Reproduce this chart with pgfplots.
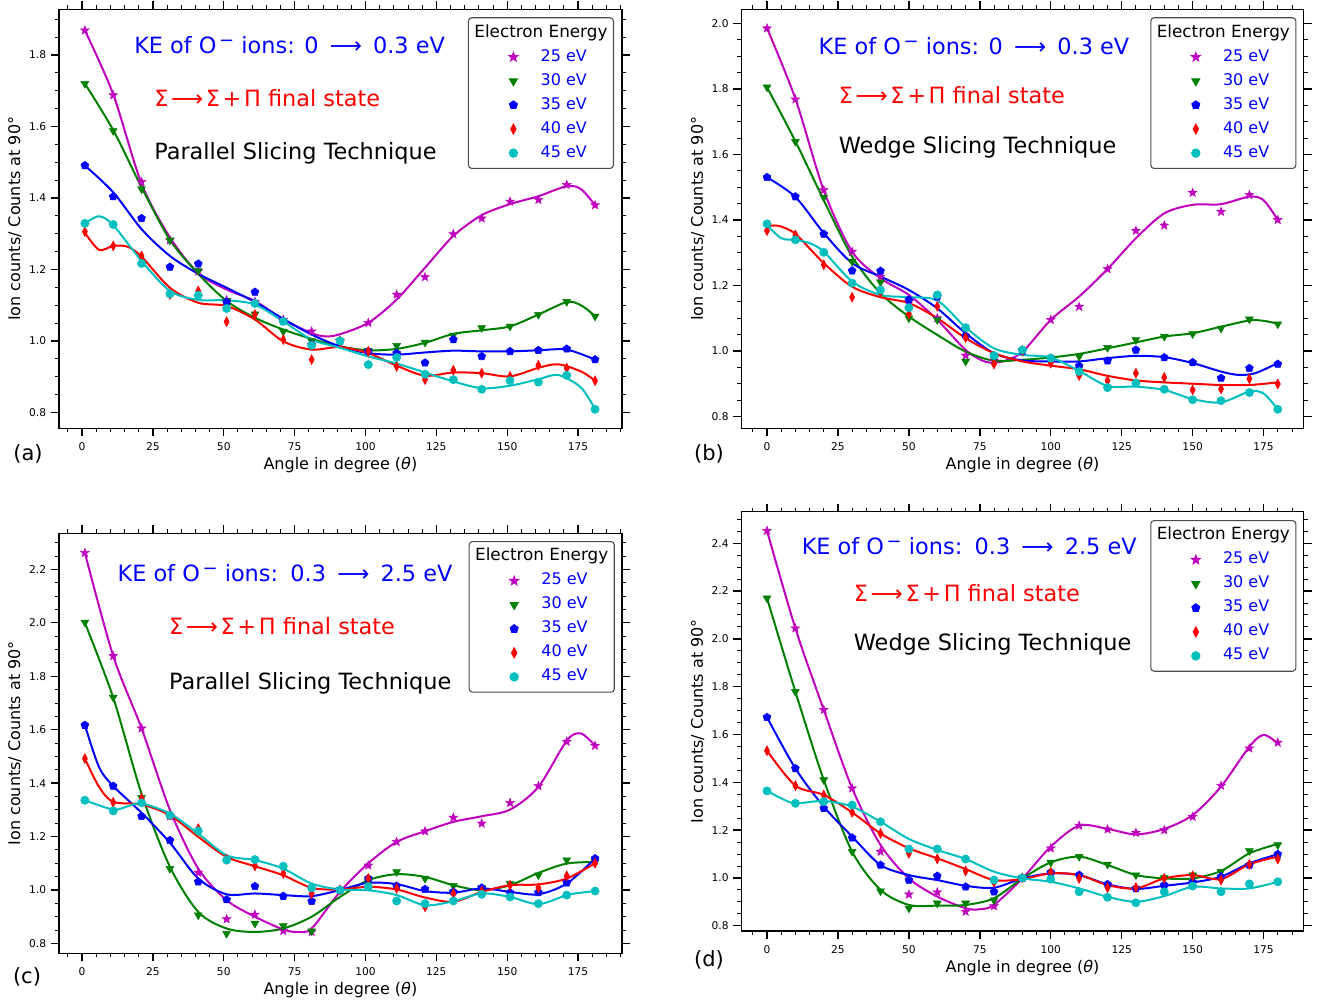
\documentclass[border=0pt]{standalone}
\usepackage{fontspec}
\setmainfont{DejaVu Sans}
\usepackage{pgfplots}
\usepackage{pgfplotstable}
\pgfplotsset{compat=1.18}
\usetikzlibrary{plotmarks}
\definecolor{mpm}{rgb}{0.75,0,0.75}
\definecolor{mpg}{rgb}{0,0.5,0}
\definecolor{mpc}{rgb}{0,0.75,0.75}
\definecolor{legedge}{rgb}{0.3,0.3,0.3}

\pgfdeclareplotmark{fstar}{%
 \pgfpathmoveto{\pgfpointpolar{90}{\pgfplotmarksize}}%
 \pgfpathlineto{\pgfpointpolar{126}{0.42\pgfplotmarksize}}%
 \pgfpathlineto{\pgfpointpolar{162}{\pgfplotmarksize}}%
 \pgfpathlineto{\pgfpointpolar{198}{0.42\pgfplotmarksize}}%
 \pgfpathlineto{\pgfpointpolar{234}{\pgfplotmarksize}}%
 \pgfpathlineto{\pgfpointpolar{270}{0.42\pgfplotmarksize}}%
 \pgfpathlineto{\pgfpointpolar{306}{\pgfplotmarksize}}%
 \pgfpathlineto{\pgfpointpolar{342}{0.42\pgfplotmarksize}}%
 \pgfpathlineto{\pgfpointpolar{18}{\pgfplotmarksize}}%
 \pgfpathlineto{\pgfpointpolar{54}{0.42\pgfplotmarksize}}%
 \pgfpathclose
 \pgfusepathqfillstroke
}

\pgfplotstableread{
x e25 e30 e35 e40 e45
1   1.869 1.720 1.491 1.306 1.329
11  1.688 1.588 1.404 1.266 1.326
21  1.445 1.425 1.343 1.238 1.217
31  1.282 1.282 1.207 1.130 1.132
41  1.195 1.196 1.216 1.140 1.128
51  1.115 1.112 1.109 1.054 1.091
61  1.110 1.075 1.137 1.074 1.105
71  1.060 1.027 1.055 1.004 1.055
81  1.027 1.000 0.990 0.948 0.988
91  1.000 1.000 1.000 1.000 1.000
101 1.051 0.973 0.971 0.971 0.934
111 1.130 0.987 0.966 0.929 0.954
121 1.179 0.996 0.939 0.892 0.907
131 1.299 1.016 1.004 0.918 0.892
141 1.343 1.037 0.957 0.910 0.865
151 1.390 1.041 0.971 0.901 0.889
161 1.395 1.074 0.974 0.932 0.885
171 1.437 1.110 0.978 0.924 0.904
181 1.380 1.069 0.948 0.889 0.809
}\dataA

\pgfplotstableread{
x e25 e30 e35 e40 e45
0   1.985 1.805 1.530 1.367 1.388
10  1.768 1.639 1.471 1.354 1.339
20  1.491 1.469 1.357 1.263 1.301
30  1.303 1.273 1.245 1.164 1.207
40  1.227 1.210 1.244 1.180 1.186
50  1.150 1.100 1.156 1.113 1.132
60  1.100 1.095 1.165 1.136 1.171
70  0.986 0.968 1.046 1.041 1.071
80  0.970 0.975 0.986 0.960 0.986
90  1.003 1.000 1.000 1.000 1.003
100 1.095 0.978 0.978 0.963 0.978
110 1.135 0.983 0.954 0.925 0.937
120 1.250 1.010 0.970 0.909 0.888
130 1.367 1.034 1.003 0.932 0.902
140 1.383 1.044 0.980 0.919 0.883
150 1.483 1.052 0.965 0.881 0.851
160 1.425 1.069 0.917 0.884 0.848
170 1.476 1.097 0.947 0.915 0.873
180 1.400 1.082 0.960 0.899 0.822
}\dataB

\pgfplotstableread{
x e25 e30 e35 e40 e45
1   2.262 2.002 1.617 1.492 1.336
11  1.876 1.721 1.389 1.328 1.296
21  1.605 1.346 1.276 1.343 1.326
31  1.276 1.080 1.186 1.280 1.280
41  1.065 0.906 1.031 1.230 1.221
51  0.891 0.837 0.964 1.115 1.112
61  0.908 0.875 1.014 1.090 1.114
71  0.847 0.866 0.977 1.062 1.089
81  0.843 0.846 0.958 0.987 1.008
91  1.000 1.000 1.000 1.000 1.000
101 1.092 1.030 1.043 1.043 1.012
111 1.180 1.068 1.015 1.006 0.959
121 1.220 1.043 1.003 0.937 0.949
131 1.271 1.016 0.993 0.987 0.959
141 1.249 1.008 1.008 0.995 0.984
151 1.326 1.024 0.990 1.018 0.974
161 1.389 1.056 0.991 1.008 0.949
171 1.555 1.112 1.027 1.053 0.981
181 1.540 1.105 1.118 1.100 0.996
}\dataC

\pgfplotstableread{
x e25 e30 e35 e40 e45
0   2.452 2.170 1.672 1.532 1.364
10  2.044 1.779 1.458 1.386 1.312
20  1.703 1.410 1.291 1.347 1.319
30  1.375 1.110 1.168 1.274 1.305
40  1.110 0.945 1.054 1.186 1.235
50  0.931 0.873 0.991 1.103 1.121
60  0.940 0.894 1.008 1.080 1.121
70  0.859 0.894 0.963 1.029 1.079
80  0.882 0.907 0.942 0.982 0.991
90  1.000 1.000 1.000 1.000 1.000
100 1.124 1.065 1.023 1.023 0.995
110 1.219 1.089 1.012 0.998 0.942
120 1.203 1.057 0.973 0.959 0.919
130 1.189 1.012 0.956 0.960 0.896
140 1.200 1.000 0.970 0.998 0.942
150 1.256 1.012 0.982 1.009 0.966
160 1.386 1.026 1.005 0.991 0.942
170 1.542 1.113 1.054 1.057 0.975
180 1.566 1.138 1.099 1.079 0.984
}\dataD

\tikzset{
  ann/.style={anchor=base west, inner sep=0pt, font=\fontsize{16.8}{20}\selectfont},
  plab/.style={anchor=center, inner sep=0pt, font=\fontsize{15.75}{19}\selectfont},
}
\pgfplotsset{
  legimg/.style={legend image code/.code={\path[draw=none] (0pt,0pt) -- (37.5pt,0pt);\draw[sharp corners,##1] plot coordinates {(29.25pt,0pt)};}},
  s25/.style={only marks, mark=fstar, mark size=3.4pt, color=mpm, legimg},
  s30/.style={only marks, mark=triangle*, mark size=3.4pt, mark options={rotate=180}, color=mpg, legimg},
  s35/.style={only marks, mark=pentagon*, mark size=3.1pt, color=blue, legimg},
  s40/.style={only marks, mark=diamond*, mark size=3.7pt, mark options={xscale=0.7}, color=red, legimg},
  s45/.style={only marks, mark=*, mark size=3.1pt, color=mpc, legimg},
  ln/.style={no markers, smooth, line width=1.5pt, forget plot},
  panel/.style={
    scale only axis, anchor=south west, clip=false,
    axis line style={line width=1.1pt},
    tick align=outside, tick pos=both,
    major tick length=6pt, minor tick length=3pt,
    major tick style={line width=1pt, black},
    minor tick style={line width=0.7pt, black},
    xtick={0,25,...,175}, minor xtick={-5,0,...,190},
    ytick={0.8,1.0,...,2.4}, minor ytick={0.75,0.8,...,2.55},
    yticklabel style={/pgf/number format/.cd, fixed, fixed zerofill, precision=1},
    xticklabel style={yshift=-1.5pt},
    tick label style={font=\fontsize{8}{9.6}\selectfont},
    /pgf/number format/assume math mode=true,
    label style={font=\fontsize{12}{14.4}\selectfont},
    xlabel={Angle in degree (\textit{θ})},
    ylabel={Ion counts/ Counts at 90°},
    xlabel style={at={(axis description cs:0.5,-0.0876)}, anchor=center},
    ylabel style={at={(axis description cs:-0.0778,0.5)}, anchor=center},
    legend cell align=left,
    legend style={draw=legedge, line width=0.8pt, rounded corners=2.5pt, fill=white,
      inner xsep=4.5pt, inner ysep=5.5pt, row sep=6pt, column sep=12.15pt,
      font=\fontsize{12}{14.4}\selectfont, text=blue,
      nodes={inner sep=0pt, text height=9pt, text depth=3pt}, anchor=north east},
  },
}
\newcommand{\legtitle}{\addlegendimage{empty legend}\addlegendentry{\hspace*{-49.65pt}\textcolor{black}{\fontsize{12.6}{14}\selectfont Electron Energy}}}
\newcommand{\supminus}{\kern2pt\raisebox{5.2pt}{\fontsize{13.5}{13.5}\selectfont −}}
\newcommand{\KElow}{KE of O\supminus\hspace{0.32em}ions: 0\hspace{0.5em}⟶\hspace{0.5em}0.3 eV}
\newcommand{\KEhigh}{KE of O\supminus\hspace{0.32em}ions:\hspace{0.55em}0.3\hspace{0.5em}⟶\hspace{0.5em}2.5 eV}
\newcommand{\SigText}{Σ\kern2pt⟶\kern2ptΣ\kern2pt+\kern2ptΠ final state}

\begin{document}
\begin{tikzpicture}
\path[use as bounding box] (0pt,0pt) rectangle (996.75pt,754.5pt);

% ---------------- (a)
\begin{axis}[panel, at={(44.1pt,433.3pt)}, width=422.4pt, height=314.25pt,
  xmin=-8.2, xmax=190.5, ymin=0.756, ymax=1.928,
  legend style={at={(axis description cs:0.9858,0.981)}}]
\legtitle
\addplot[s25] table[x=x,y=e25]{\dataA}; \addlegendentry{25 eV}
\addplot[ln, mpm] coordinates {(1,1.869)(11,1.69)(21,1.44)(31,1.29)(41,1.19)(51,1.144)(61,1.112)(71,1.06)(81,1.022)(86,1.013)(91,1.019)(101,1.051)(111,1.116)(121,1.205)(131,1.294)(141,1.352)(151,1.383)(161,1.405)(171,1.433)(176,1.425)(181,1.38)};
\addplot[s30] table[x=x,y=e30]{\dataA}; \addlegendentry{30 eV}
\addplot[ln, mpg] coordinates {(1,1.72)(11,1.59)(21,1.43)(31,1.283)(41,1.188)(51,1.112)(61,1.065)(71,1.032)(81,1.006)(91,0.985)(101,0.974)(111,0.978)(121,0.995)(131,1.02)(141,1.03)(151,1.041)(161,1.074)(171,1.109)(176,1.1)(181,1.07)};
\addplot[s35] table[x=x,y=e35]{\dataA}; \addlegendentry{35 eV}
\addplot[ln, blue] coordinates {(1,1.491)(11,1.416)(21,1.313)(31,1.238)(41,1.188)(51,1.149)(61,1.109)(71,1.062)(81,1.018)(91,0.985)(101,0.966)(111,0.962)(121,0.968)(131,0.973)(141,0.971)(151,0.971)(161,0.974)(171,0.976)(181,0.948)};
\addplot[s40] table[x=x,y=e40]{\dataA}; \addlegendentry{40 eV}
\addplot[ln, red] coordinates {(1,1.303)(6,1.255)(11,1.266)(16,1.264)(21,1.236)(31,1.149)(41,1.107)(51,1.098)(61,1.06)(71,0.999)(81,0.976)(91,0.983)(101,0.966)(111,0.931)(121,0.903)(131,0.912)(141,0.91)(151,0.901)(161,0.925)(168,0.935)(176,0.915)(181,0.889)};
\addplot[s45] table[x=x,y=e45]{\dataA}; \addlegendentry{45 eV}
\addplot[ln, mpc] coordinates {(1,1.329)(6,1.349)(11,1.324)(21,1.224)(31,1.14)(41,1.115)(51,1.114)(61,1.102)(71,1.055)(81,1.004)(91,0.981)(101,0.957)(111,0.937)(121,0.912)(131,0.887)(141,0.868)(151,0.875)(161,0.893)(168,0.905)(176,0.87)(181,0.809)};
\node[ann, text=blue] at (axis description cs:0.1335,0.895) {\KElow};
\node[ann, text=red] at (axis description cs:0.169,0.7675) {\SigText};
\node[ann, text=black] at (axis description cs:0.169,0.642) {Parallel Slicing Technique};
\node[plab] at (axis description cs:-0.0547,-0.0613) {(a)};
\end{axis}

% ---------------- (b)
\begin{axis}[panel, at={(556pt,433.3pt)}, width=421.7pt, height=314.25pt,
  xmin=-9.05, xmax=189.1, ymin=0.764, ymax=2.043,
  legend style={at={(axis description cs:0.9872,0.981)}}]
\legtitle
\addplot[s25] table[x=x,y=e25]{\dataB}; \addlegendentry{25 eV}
\addplot[ln, mpm] coordinates {(0,1.985)(10,1.77)(20,1.49)(30,1.303)(40,1.222)(50,1.171)(60,1.095)(70,1.003)(77,0.967)(83,0.968)(90,0.997)(100,1.095)(110,1.166)(120,1.25)(130,1.344)(140,1.42)(150,1.446)(160,1.448)(170,1.471)(175,1.46)(180,1.40)};
\addplot[s30] table[x=x,y=e30]{\dataB}; \addlegendentry{30 eV}
\addplot[ln, mpg] coordinates {(0,1.805)(10,1.64)(20,1.46)(30,1.288)(40,1.176)(50,1.105)(60,1.049)(70,0.998)(80,0.97)(90,0.973)(100,0.98)(110,0.991)(120,1.008)(130,1.026)(140,1.044)(150,1.054)(160,1.074)(170,1.093)(175,1.092)(180,1.083)};
\addplot[s35] table[x=x,y=e35]{\dataB}; \addlegendentry{35 eV}
\addplot[ln, blue] coordinates {(0,1.53)(10,1.47)(20,1.36)(30,1.268)(40,1.227)(50,1.186)(60,1.13)(70,1.054)(80,0.993)(90,0.971)(100,0.968)(110,0.968)(120,0.978)(130,0.985)(140,0.981)(150,0.963)(160,0.937)(166,0.927)(172,0.932)(180,0.963)};
\addplot[s40] table[x=x,y=e40]{\dataB}; \addlegendentry{40 eV}
\addplot[ln, red] coordinates {(0,1.38)(4,1.382)(10,1.357)(20,1.268)(30,1.196)(40,1.164)(50,1.146)(60,1.1)(70,1.039)(80,0.993)(90,0.968)(100,0.955)(110,0.944)(120,0.924)(130,0.91)(140,0.904)(150,0.9)(160,0.896)(170,0.896)(180,0.904)};
\addplot[s45] table[x=x,y=e45]{\dataB}; \addlegendentry{45 eV}
\addplot[ln, mpc] coordinates {(0,1.385)(5,1.344)(10,1.339)(15,1.329)(20,1.303)(30,1.212)(40,1.171)(50,1.164)(60,1.154)(70,1.072)(80,1.008)(90,0.988)(100,0.98)(110,0.939)(120,0.893)(130,0.891)(140,0.881)(150,0.853)(160,0.843)(170,0.876)(175,0.87)(180,0.822)};
\node[ann, text=blue] at (axis description cs:0.137,0.8926) {\KElow};
\node[ann, text=red] at (axis description cs:0.173,0.7757) {\SigText};
\node[ann, text=black] at (axis description cs:0.173,0.6563) {Wedge Slicing Technique};
\node[plab] at (axis description cs:-0.0574,-0.061) {(b)};
\end{axis}

% ---------------- (c)
\begin{axis}[panel, at={(44.1pt,39.5pt)}, width=422.4pt, height=315pt,
  xmin=-8.2, xmax=190.5, ymin=0.763, ymax=2.335,
  legend style={at={(axis description cs:0.9872,0.9817)}}]
\legtitle
\addplot[s25] table[x=x,y=e25]{\dataC}; \addlegendentry{25 eV}
\addplot[ln, mpm] coordinates {(1,2.262)(11,1.876)(21,1.605)(31,1.3)(41,1.08)(51,0.962)(61,0.9)(71,0.852)(76,0.843)(81,0.856)(91,0.993)(101,1.1)(111,1.18)(121,1.22)(131,1.255)(141,1.276)(151,1.301)(161,1.386)(171,1.559)(176,1.586)(181,1.54)};
\addplot[s30] table[x=x,y=e30]{\dataC}; \addlegendentry{30 eV}
\addplot[ln, mpg] coordinates {(1,2.0)(11,1.72)(21,1.36)(31,1.087)(41,0.918)(51,0.856)(61,0.843)(71,0.856)(81,0.9)(91,0.974)(101,1.037)(111,1.059)(121,1.049)(131,1.018)(141,0.999)(151,1.018)(161,1.064)(171,1.099)(181,1.105)};
\addplot[s35] table[x=x,y=e35]{\dataC}; \addlegendentry{35 eV}
\addplot[ln, blue] coordinates {(1,1.617)(6,1.46)(11,1.389)(21,1.289)(31,1.177)(41,1.043)(51,0.984)(61,0.987)(71,0.981)(81,0.977)(91,1.0)(101,1.027)(111,1.022)(121,0.996)(131,0.99)(141,1.006)(151,0.993)(161,0.984)(171,1.024)(181,1.118)};
\addplot[s40] table[x=x,y=e40]{\dataC}; \addlegendentry{40 eV}
\addplot[ln, red] coordinates {(1,1.492)(6,1.386)(11,1.33)(21,1.32)(31,1.28)(41,1.199)(51,1.124)(61,1.089)(71,1.055)(81,1.008)(91,1.002)(101,1.012)(111,1.002)(121,0.972)(131,0.956)(141,0.993)(151,1.018)(161,1.021)(171,1.043)(181,1.1)};
\addplot[s45] table[x=x,y=e45]{\dataC}; \addlegendentry{45 eV}
\addplot[ln, mpc] coordinates {(1,1.336)(11,1.301)(16,1.313)(21,1.324)(31,1.286)(41,1.211)(51,1.13)(61,1.112)(71,1.08)(81,1.024)(91,1.002)(101,0.999)(111,0.981)(121,0.943)(131,0.958)(141,0.987)(151,0.974)(161,0.947)(171,0.981)(176,0.99)(181,0.996)};
\node[ann, text=blue] at (axis description cs:0.1039,0.8848) {\KEhigh};
\node[ann, text=red] at (axis description cs:0.1953,0.758) {\SigText};
\node[ann, text=black] at (axis description cs:0.1953,0.627) {Parallel Slicing Technique};
\node[plab] at (axis description cs:-0.0565,-0.0564) {(c)};
\end{axis}

% ---------------- (d)
\begin{axis}[panel, at={(556pt,56.25pt)}, width=421.7pt, height=314.5pt,
  xmin=-9.05, xmax=189.1, ymin=0.778, ymax=2.532,
  legend style={at={(axis description cs:0.9872,0.980)}}]
\legtitle
\addplot[s25] table[x=x,y=e25]{\dataD}; \addlegendentry{25 eV}
\addplot[ln, mpm] coordinates {(0,2.452)(10,2.044)(20,1.703)(30,1.375)(40,1.138)(50,0.998)(60,0.922)(70,0.873)(75,0.869)(80,0.887)(90,0.998)(100,1.131)(110,1.219)(120,1.205)(130,1.182)(140,1.205)(150,1.263)(160,1.382)(170,1.549)(175,1.598)(180,1.563)};
\addplot[s30] table[x=x,y=e30]{\dataD}; \addlegendentry{30 eV}
\addplot[ln, mpg] coordinates {(0,2.17)(10,1.779)(20,1.41)(30,1.11)(40,0.95)(50,0.887)(60,0.884)(70,0.887)(80,0.915)(90,0.998)(100,1.065)(110,1.089)(120,1.054)(130,1.012)(140,0.998)(150,0.998)(160,1.029)(170,1.103)(180,1.142)};
\addplot[s35] table[x=x,y=e35]{\dataD}; \addlegendentry{35 eV}
\addplot[ln, blue] coordinates {(0,1.672)(10,1.458)(20,1.298)(30,1.173)(40,1.054)(50,1.012)(60,0.991)(70,0.967)(80,0.959)(90,0.998)(100,1.019)(110,1.012)(120,0.973)(130,0.954)(140,0.967)(150,0.981)(160,1.005)(170,1.061)(180,1.099)};
\addplot[s40] table[x=x,y=e40]{\dataD}; \addlegendentry{40 eV}
\addplot[ln, red] coordinates {(0,1.532)(10,1.386)(20,1.347)(30,1.274)(40,1.186)(50,1.124)(60,1.082)(70,1.037)(80,0.991)(90,0.995)(100,1.019)(110,1.012)(120,0.97)(130,0.956)(140,0.998)(150,1.012)(160,0.995)(170,1.057)(180,1.089)};
\addplot[s45] table[x=x,y=e45]{\dataD}; \addlegendentry{45 eV}
\addplot[ln, mpc] coordinates {(0,1.364)(5,1.333)(10,1.312)(20,1.322)(30,1.298)(40,1.235)(50,1.163)(60,1.117)(70,1.079)(80,1.026)(90,0.998)(100,0.984)(110,0.956)(120,0.921)(130,0.9)(140,0.924)(150,0.963)(160,0.956)(170,0.956)(180,0.984)};
\node[ann, text=blue] at (axis description cs:0.107,0.898) {\KEhigh};
\node[ann, text=red] at (axis description cs:0.1997,0.785) {\SigText};
\node[ann, text=black] at (axis description cs:0.1997,0.668) {Wedge Slicing Technique};
\node[plab] at (axis description cs:-0.0574,-0.069) {(d)};
\end{axis}
\end{tikzpicture}
\end{document}
